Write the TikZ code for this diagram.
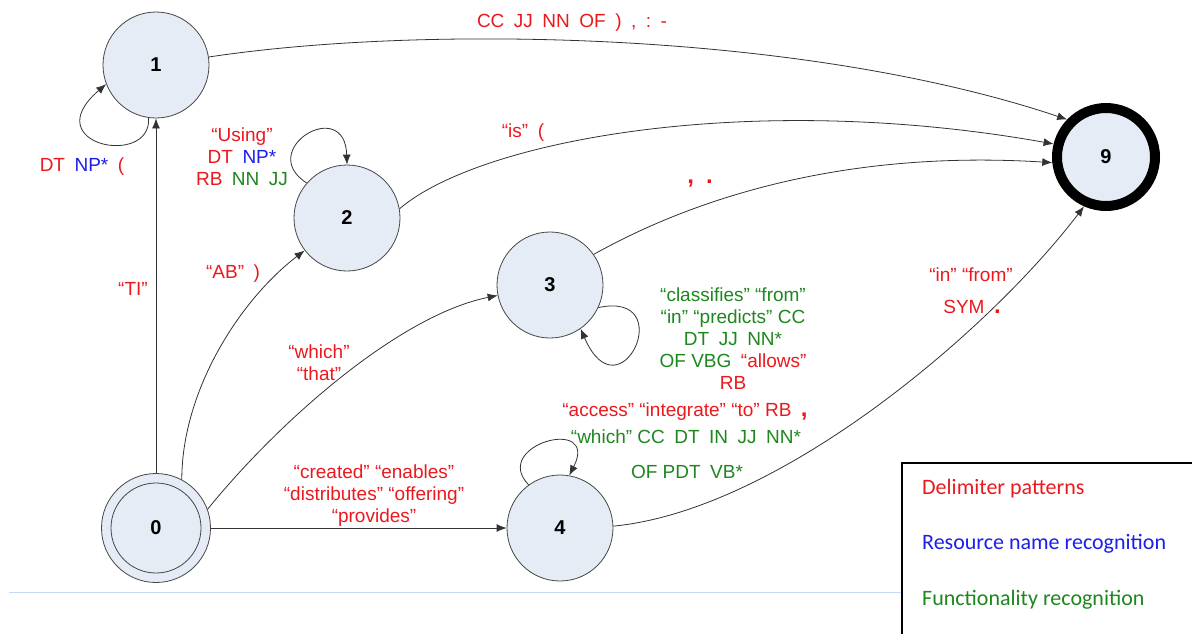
\documentclass[tikz,border=0pt]{standalone}
\usepackage{fontspec}
\setmainfont{Liberation Sans}
\newfontfamily\legendfont{Carlito}
\usetikzlibrary{arrows.meta}
\definecolor{cred}{RGB}{235,25,30}
\definecolor{cgreen}{RGB}{30,135,30}
\definecolor{cblue}{RGB}{30,30,235}
\definecolor{nodefill}{RGB}{230,236,246}
\definecolor{nodeline}{RGB}{70,70,70}
\definecolor{sepline}{RGB}{195,218,240}
\newcommand\gp{\hspace{0.5em}}
\newcommand\cR[1]{\textcolor{cred}{#1}}
\newcommand\cG[1]{\textcolor{cgreen}{#1}}
\newcommand\cB[1]{\textcolor{cblue}{#1}}
\newcommand\bigp[1]{{\bfseries\fontsize{24}{24}\selectfont #1}}
\begin{document}
\begin{tikzpicture}[x=1pt,y=-1pt,
  state/.style={circle, draw=nodeline, fill=nodefill, line width=0.8pt, minimum size=106pt, inner sep=0pt, font=\bfseries\fontsize{20}{24}\selectfont},
  lbl/.style={inner sep=0pt, align=center, font=\fontsize{19}{22}\selectfont},
  edge/.style={draw=black!80, line width=0.8pt, -{Latex[length=10pt,width=8pt]}},
  legtext/.style={anchor=west, inner sep=0pt, font=\legendfont\fontsize{22}{26}\selectfont}]
\useasboundingbox (0,0) rectangle (1192,633);
\fill[white] (0,0) rectangle (1192,633);

% separator line
\draw[sepline, line width=1pt] (9,592) -- (902,592);

% states
\node[state] (n1) at (156,65) {1};
\node[state] (n2) at (347,218) {2};
\node[state] (n3) at (550,285) {3};
\node[state] (n4) at (560,528) {4};
\node[state, minimum size=109pt] (n0) at (156,528) {0};
\node[circle, draw=nodeline, line width=0.8pt, minimum size=90pt, inner sep=0pt] (n0in) at (n0.center) {};
\node[state, draw=black, line width=10pt, minimum size=98pt, outer sep=5pt] (n9) at (1106,157) {9};

% transitions from 0
\draw[edge] (n0) -- (n1);
\draw[edge] (n0.62) .. controls (182,390) and (240,300) .. (n2);
\draw[edge] (n0.20) .. controls (280,420) and (400,315) .. (n3);
\draw[edge] (n0) -- (n4);

% transitions to 9
\draw[edge] (n1) .. controls (420,25) and (800,30) .. (n9.136);
\draw[edge] (n2.10) .. controls (480,140) and (750,90) .. (n9.166);
\draw[edge] (n3.35) .. controls (700,195) and (850,150) .. (n9.186);
\draw[edge] (n4.2) .. controls (780,510) and (990,330) .. (n9.246);

% loops
\draw[edge] (n1.262) .. controls (152,168) and (35,145) .. (n1.201);
\draw[edge] (n2.139) .. controls (255,150) and (345,95) .. (n2.90);
\draw[edge] (n3.-25) .. controls (680,290) and (620,420) .. (n3.-55);
\draw[edge] (n4.126) .. controls (490,445) and (600,415) .. (n4.80);

% labels
\node[lbl, text=cred] (l19) at (572,23) {CC\gp JJ\gp NN\gp OF\gp )\gp ,\gp :\gp -};
\node[lbl] (l11) at (82,167) {\cR{DT}\gp\cB{NP*}\gp\cR{(}};
\node[lbl] (l22) at (242,157) {\cR{“Using”}\\ \cR{DT}\gp\cB{NP*}\\ \cR{RB}\gp\cG{NN}\gp\cG{JJ}};
\node[lbl, text=cred] (l29) at (523,133) {“is”\gp(};
\node[lbl, text=cred] (l39) at (700,184) {\bigp{,\hspace{0.5em}.}};
\node[lbl, text=cred] (l01) at (133,289) {“TI”};
\node[lbl, text=cred] (l02) at (233,274) {“AB”\gp)};
\node[lbl, text=cred] (l03) at (319,363) {“which”\\“that”};
\node[lbl, text=cred] (l04) at (374,496) {“created” “enables”\\“distributes” “offering”\\“provides”};
\node[lbl] (l33) at (733,339) {\cG{“classifies” “from”}\\ \cG{“in” “predicts” CC}\\ \cG{DT\gp JJ\gp NN*}\\ \cG{OF VBG}\gp\cR{“allows”}\\ \cR{RB}};
\node[lbl, text=cred] (l44a) at (685,412) {“access” “integrate” “to” RB\gp\bigp{,}};
\node[lbl, text=cgreen] (l44b) at (686,437) {“which” CC\gp DT\gp IN\gp JJ\gp NN*};
\node[lbl, text=cgreen] (l44c) at (687,472) {OF PDT\gp VB*};
\node[lbl, text=cred] (l49a) at (971,275) {“in” “from”};
\node[lbl, text=cred] (l49b) at (972,307) {SYM\gp\bigp{.}};

% legend
\draw[line width=1.8pt] (902,463) rectangle (1200,645);
\node[legtext, text=cred] (lg1) at (922,489) {Delimiter patterns};
\node[legtext, text=cblue] (lg2) at (922,544) {Resource name recognition};
\node[legtext, text=cgreen] (lg3) at (922,600) {Functionality recognition};
\end{tikzpicture}
\end{document}
